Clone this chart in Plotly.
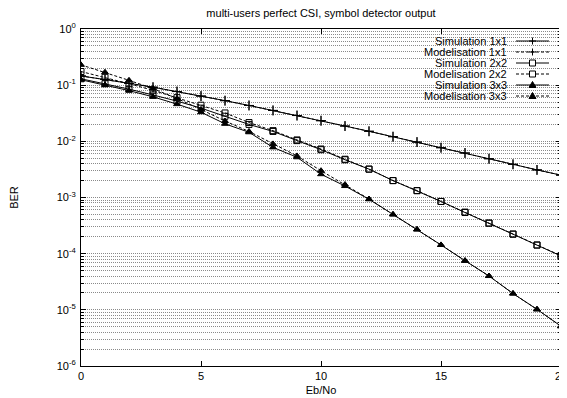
import plotly.graph_objects as go

ebno = list(range(0, 21))

sim_1x1 = [0.146, 0.127, 0.108, 0.092, 0.077, 0.064, 0.053, 0.0435, 0.0355, 0.0288, 0.0233,
           0.0187, 0.0151, 0.0121, 0.0097, 0.0077, 0.0062, 0.0049, 0.0039, 0.0031, 0.0025]
mod_1x1 = [0.146, 0.127, 0.108, 0.092, 0.077, 0.064, 0.053, 0.0435, 0.0355, 0.0288, 0.0233,
           0.0187, 0.0151, 0.0121, 0.0097, 0.0077, 0.0062, 0.0049, 0.0039, 0.0031, 0.0025]
sim_2x2 = [0.130, 0.106, 0.085, 0.067, 0.052, 0.039, 0.028, 0.0200, 0.0150, 0.0103, 0.0071,
           0.0047, 0.0032, 0.0020, 0.00132, 0.00085, 0.00054, 0.00035, 0.000222, 0.000142, 0.000091]
mod_2x2 = [0.175, 0.138, 0.106, 0.081, 0.060, 0.044, 0.032, 0.0216, 0.0155, 0.0106, 0.0073,
           0.0048, 0.0032, 0.0020, 0.00133, 0.00085, 0.00055, 0.00035, 0.000224, 0.000143, 0.000092]
sim_3x3 = [0.125, 0.101, 0.080, 0.062, 0.046, 0.033, 0.0205, 0.0145, 0.0078, 0.0052, 0.0026,
           0.0016, 0.00093, 0.00050, 0.00027, 0.000143, 0.000075, 0.000040, 0.0000195, 0.0000102, 0.0000051]
mod_3x3 = [0.230, 0.170, 0.122, 0.087, 0.058, 0.037, 0.023, 0.0150, 0.0090, 0.0055, 0.0030,
           0.0017, 0.00094, 0.00050, 0.00027, 0.000143, 0.000075, 0.000040, 0.0000195, 0.0000102, 0.0000051]

names = ["Simulation 1x1", "Modelisation 1x1", "Simulation 2x2",
         "Modelisation 2x2", "Simulation 3x3", "Modelisation 3x3"]
series = [sim_1x1, mod_1x1, sim_2x2, mod_2x2, sim_3x3, mod_3x3]
marker_kind = ["plus", "plus", "square", "square", "triangle", "triangle"]
symbols = {"plus": "cross-thin-open", "square": "square-open", "triangle": "triangle-up"}
sizes = {"plus": 7, "square": 6, "triangle": 6}
dashes = ["solid", "3px,2px", "solid", "3px,2px", "solid", "3px,2px"]

x_ticks = [0, 5, 10, 15, 20]
y_major = [10.0 ** e for e in range(-6, 1)]
y_major_text = ["10<sup>%d</sup>" % e for e in range(-6, 1)]
y_minor = [k * 10.0 ** e for e in range(-6, 0) for k in range(2, 10)]

# figure geometry (the page adds an 8px body margin)
W, H = 559, 390
ML, MR, MT, MB = 73, 6, 21, 32
PW, PH = W - ML - MR, H - MT - MB


def px(x):
    return (x - ML) / PW


def py(y):
    return 1 - (y - MT) / PH


fig = go.Figure()
for name, ys, kind, da in zip(names, series, marker_kind, dashes):
    fig.add_trace(go.Scatter(
        x=ebno, y=ys, name=name, mode="lines+markers", showlegend=False,
        line=dict(color="black", width=1, dash=da),
        marker=dict(symbol=symbols[kind], size=sizes[kind], color="black",
                    line=dict(color="black", width=1)),
    ))

font = "Liberation Sans, Arial, sans-serif"
shapes = []
annotations = []

# gnuplot-style key: opaque box, right-aligned text, sample to the right
box_l, box_r, box_t, box_b = 395, 545, 22, 91
shapes.append(dict(type="rect", xref="paper", yref="paper", layer="between",
                   x0=px(box_l), x1=px(box_r), y0=py(box_b), y1=py(box_t),
                   fillcolor="white", line=dict(width=0)))
text_right = 501
s0, s1 = 508, 541
sm = (s0 + s1) / 2
for i, (name, kind, da) in enumerate(zip(names, marker_kind, dashes)):
    yc = 33 + 11 * i
    annotations.append(dict(text=name, xref="paper", yref="paper", x=px(text_right), y=py(yc),
                            xanchor="right", yanchor="middle", showarrow=False,
                            font=dict(size=11, family=font, color="black")))
    shapes.append(dict(type="line", xref="paper", yref="paper", x0=px(s0), x1=px(s1),
                       y0=py(yc), y1=py(yc), line=dict(color="black", width=1, dash=da)))
    if kind == "plus":
        shapes.append(dict(type="line", xref="paper", yref="paper", x0=px(sm - 3.5), x1=px(sm + 3.5),
                           y0=py(yc), y1=py(yc), line=dict(color="black", width=1)))
        shapes.append(dict(type="line", xref="paper", yref="paper", x0=px(sm), x1=px(sm),
                           y0=py(yc - 3.5), y1=py(yc + 3.5), line=dict(color="black", width=1)))
    elif kind == "square":
        shapes.append(dict(type="rect", xref="paper", yref="paper", x0=px(sm - 3), x1=px(sm + 3),
                           y0=py(yc + 3), y1=py(yc - 3), fillcolor="white",
                           line=dict(color="black", width=1)))
    else:
        path = "M %f %f L %f %f L %f %f Z" % (px(sm - 3.5), py(yc + 2.5), px(sm + 3.5), py(yc + 2.5),
                                              px(sm), py(yc - 3.5))
        shapes.append(dict(type="path", xref="paper", yref="paper", path=path,
                           fillcolor="black", line=dict(color="black", width=1)))

fig.update_layout(
    width=W, height=H,
    margin=dict(l=ML, r=MR, t=MT, b=MB),
    paper_bgcolor="white", plot_bgcolor="white",
    font=dict(family=font, size=11, color="black"),
    title=dict(text="multi-users perfect CSI, symbol detector output", x=313 / W, xanchor="center",
               y=1 - 5.5 / H, yanchor="middle", font=dict(size=11)),
    showlegend=False,
    shapes=shapes, annotations=annotations,
)
fig.update_xaxes(
    range=[0, 20], tickmode="array", tickvals=x_ticks, ticklabeloverflow="allow",
    ticks="inside", ticklen=5, tickcolor="black", showgrid=False, zeroline=False,
    showline=True, linecolor="black", linewidth=1, mirror="ticks", automargin=False,
    title=dict(text="Eb/No", standoff=5, font=dict(size=11)),
)
fig.update_yaxes(
    type="log", range=[-6, 0], tickmode="array", tickvals=y_major, ticktext=y_major_text,
    ticks="inside", ticklen=5, tickcolor="black", ticklabelstandoff=2,
    showgrid=True, gridcolor="#8a8a8a", griddash="1px,1px", gridwidth=1,
    showline=True, linecolor="black", linewidth=1, mirror="ticks", zeroline=False, automargin=False,
    minor=dict(tickmode="array", tickvals=y_minor, ticks="inside", ticklen=3, tickcolor="black",
               showgrid=True, gridcolor="#8a8a8a", griddash="1px,1px", gridwidth=1),
    title=dict(text="BER", standoff=38, font=dict(size=11)),
)

fig.write_html("out.html")
